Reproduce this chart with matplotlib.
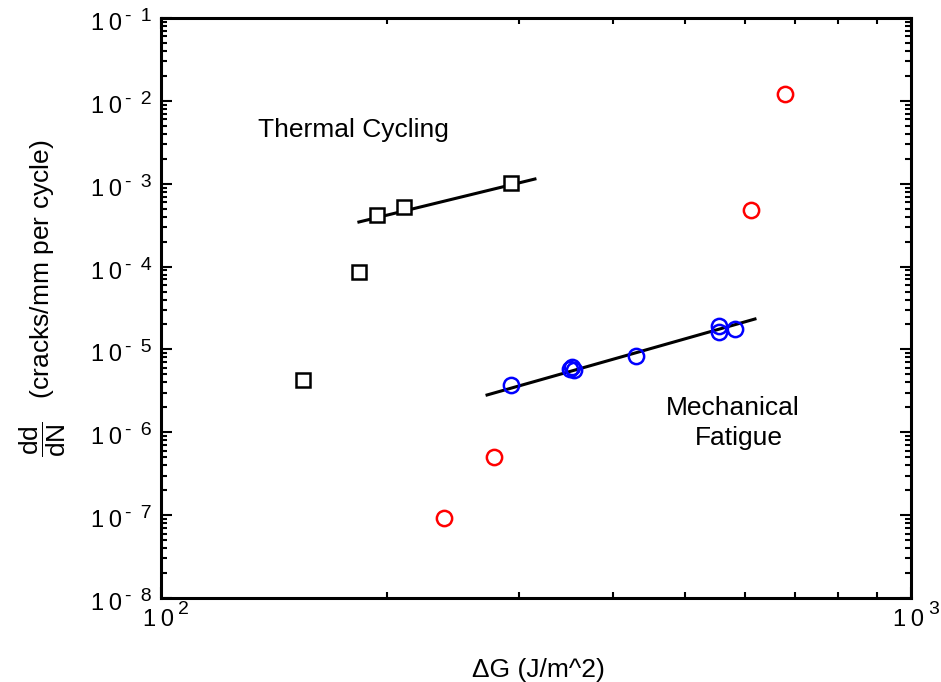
import numpy as np
import matplotlib
matplotlib.use("Agg")
import matplotlib.pyplot as plt
from matplotlib.ticker import FixedLocator, LogLocator, NullFormatter
from matplotlib.transforms import offset_copy

plt.rcParams['font.family'] = ['Liberation Sans', 'DejaVu Sans']
plt.rcParams['mathtext.fontset'] = 'custom'
plt.rcParams['mathtext.rm'] = 'Liberation Sans'
plt.rcParams['mathtext.it'] = 'Liberation Sans'

# thermal cycling data (squares)
thermal_G = [154.6, 183.6, 194.1, 210.9, 292.9]
thermal_rate = [4.3e-6, 8.5e-5, 4.2e-4, 5.2e-4, 1.02e-3]
thermal_fit_G = [183.6, 315.2]
thermal_fit_rate = [3.45e-4, 1.14e-3]

# mechanical fatigue data (blue circles)
mech_G = [292.9, 350.5, 353.5, 355.5, 429.9, 554.6, 554.6, 582.6]
mech_rate = [3.7e-6, 5.8e-6, 6.2e-6, 5.7e-6, 8.3e-6, 1.62e-5, 1.92e-5, 1.77e-5]
mech_fit_G = [272.1, 619.4]
mech_fit_rate = [2.82e-6, 2.33e-5]

# other points (red circles)
red_G = [238.5, 278.0, 611.8, 679.2]
red_rate = [9.2e-8, 5.0e-7, 4.8e-4, 1.2e-2]

y_exps = [-1, -2, -3, -4, -5, -6, -7, -8]
x_exps = [2, 3]

fig = plt.figure(figsize=(9.41, 6.82), dpi=100)
ax = fig.add_axes([161/941, 1 - 598/682, 750/941, 580/682])
ax.set_xscale('log')
ax.set_yscale('log')

ax.plot(thermal_fit_G, thermal_fit_rate, color='black', lw=2.2)
ax.plot(mech_fit_G, mech_fit_rate, color='black', lw=2.2)
ax.plot(thermal_G, thermal_rate, ls='none', marker='s', ms=10, mfc='white',
        mec='black', mew=1.8)
ax.plot(mech_G, mech_rate, ls='none', marker='o', ms=11, mfc='none',
        mec='blue', mew=1.8)
ax.plot(red_G, red_rate, ls='none', marker='o', ms=11, mfc='none',
        mec='red', mew=1.8)

ax.set_xlim(100, 1000)
ax.set_ylim(1e-8, 1e-1)

ax.yaxis.set_major_locator(FixedLocator([10.0 ** e for e in y_exps]))
ax.yaxis.set_minor_locator(LogLocator(base=10, subs=np.arange(2, 10), numticks=20))
ax.yaxis.set_minor_formatter(NullFormatter())
ax.xaxis.set_major_locator(FixedLocator([10.0 ** e for e in x_exps]))
ax.xaxis.set_minor_locator(LogLocator(base=10, subs=np.arange(2, 10), numticks=20))
ax.xaxis.set_minor_formatter(NullFormatter())

ax.tick_params(which='both', direction='in', top=True, right=True, width=1.5,
               labelleft=False, labelbottom=False)
ax.tick_params(which='major', length=8)
ax.tick_params(which='minor', length=4)
for s in ax.spines.values():
    s.set_linewidth(2.2)

# MATLAB-style power-of-ten tick labels: "1 0" plus a raised exponent
ytrans = ax.get_yaxis_transform()
for e in y_exps:
    ax.text(0, 10.0 ** e, '1\u20090', fontsize=17, ha='right', va='baseline',
            transform=offset_copy(ytrans, fig=fig, x=-39, y=-12, units='dots'))
    ax.text(0, 10.0 ** e, '- \u2009%d' % (-e), fontsize=14, ha='left', va='baseline',
            transform=offset_copy(ytrans, fig=fig, x=-36, y=-3, units='dots'))
xtrans = ax.get_xaxis_transform()
for e in x_exps:
    ax.text(10.0 ** e, 0, '1\u20090', fontsize=17, ha='right', va='baseline',
            transform=offset_copy(xtrans, fig=fig, x=13, y=-28, units='dots'))
    ax.text(10.0 ** e, 0, '%d' % e, fontsize=14, ha='left', va='baseline',
            transform=offset_copy(xtrans, fig=fig, x=17, y=-16, units='dots'))

ax.text(0.2567, 0.795, 'Thermal Cycling', fontsize=19, ha='center',
        va='baseline', transform=ax.transAxes)
ax.text(0.7627, 0.3155, 'Mechanical', fontsize=19, ha='center',
        va='baseline', transform=ax.transAxes)
ax.text(0.7707, 0.2638, 'Fatigue', fontsize=19, ha='center',
        va='baseline', transform=ax.transAxes)

fig.text(538 / 941, 1 - 677 / 682, '\u0394G (J/m^2)', fontsize=19,
         ha='center', va='baseline')
fig.text(43 / 941, 1 - 298 / 682,
         r'$\dfrac{\mathregular{dd}}{\mathregular{dN}}$   (cracks/mm per cycle)',
         rotation=90, fontsize=19, ha='center', va='center')

fig.savefig('out.png', dpi=100)
